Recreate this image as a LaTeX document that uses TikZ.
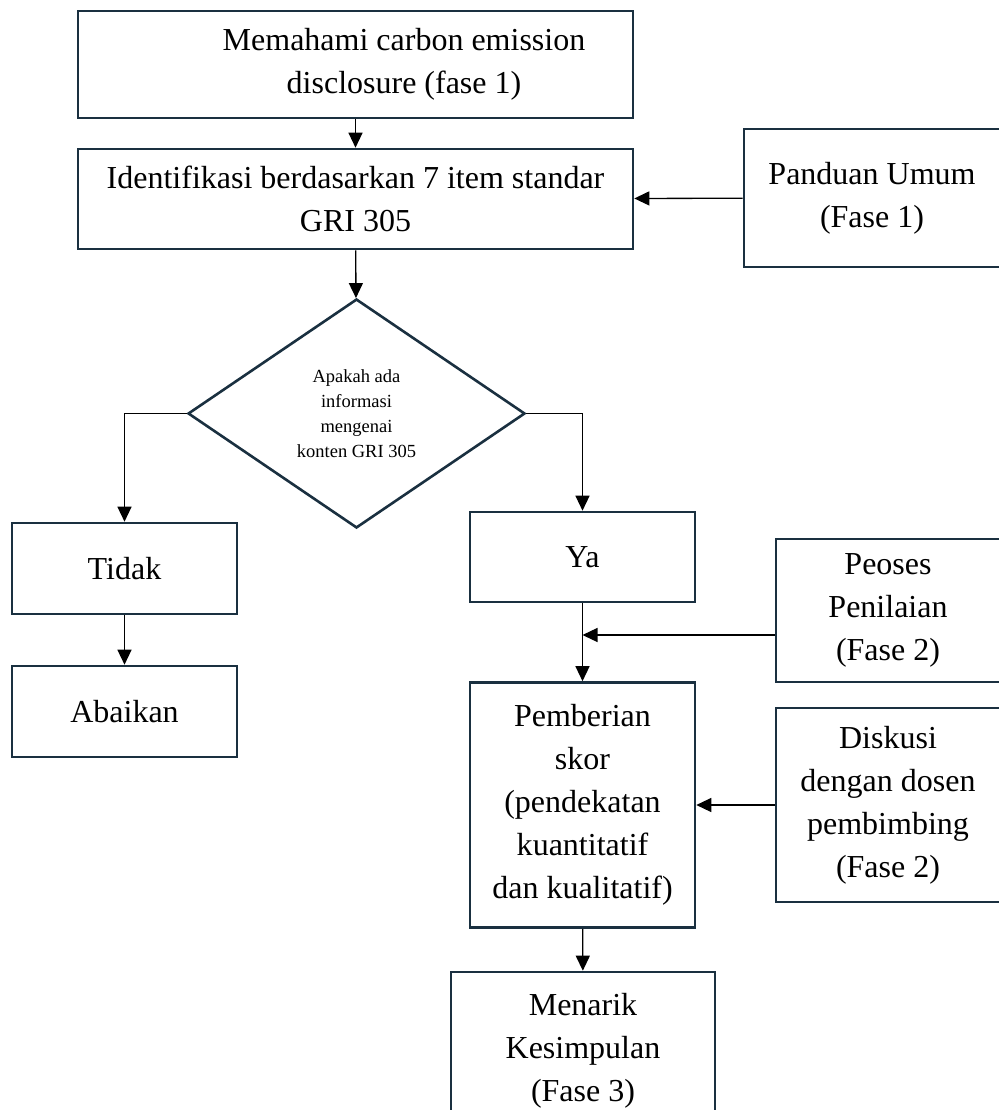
\documentclass[tikz,border=0pt]{standalone}
\usepackage{fontspec}
\setmainfont{Liberation Serif}
\usetikzlibrary{shapes.geometric,arrows.meta}
\definecolor{boxline}{HTML}{1A3040}

\begin{document}
\begin{tikzpicture}
  [x=1pt,y=-1pt,
   every node/.style={draw=boxline,line width=2.6pt,inner sep=0pt,align=center,
     font=\fontsize{32}{43}\selectfont},
   arrow/.style={black,line width=1.3pt,-{Triangle[length=15pt,width=14pt]}}]
  \useasboundingbox (0,0) rectangle (998,1110);
  \node[minimum width=555pt,minimum height=107pt] (memahami) at (355.5,64.5)
    {\hspace*{97pt}Memahami carbon emission\\\hspace*{97pt}disclosure (fase 1)};
  \node[minimum width=555pt,minimum height=100pt] (identifikasi) at (355.5,199)
    {Identifikasi berdasarkan 7 item standar\\GRI 305};
  \node[minimum width=256pt,minimum height=138pt] (panduan) at (872,198) {Panduan Umum\\(Fase 1)};
  \node[diamond,aspect=1.47,minimum width=337pt,minimum height=229pt,
    font=\fontsize{18.5}{25}\selectfont] (cek) at (356.5,413.5)
    {Apakah ada\\informasi\\mengenai\\konten GRI 305};
  \node[minimum width=225pt,minimum height=91pt] (tidak) at (124.5,568.5) {Tidak};
  \node[minimum width=225pt,minimum height=91pt] (abaikan) at (124.5,711.5) {Abaikan};
  \node[minimum width=225pt,minimum height=90pt] (ya) at (582.5,557) {Ya};
  \node[minimum width=224pt,minimum height=143pt] (peoses) at (888,610.5) {Peoses\\Penilaian\\(Fase 2)};
  \node[minimum width=225pt,minimum height=245pt] (pemberian) at (582.5,805)
    {Pemberian\\skor\\(pendekatan\\kuantitatif\\dan kualitatif)};
  \node[minimum width=224pt,minimum height=194pt] (diskusi) at (888,805)
    {Diskusi\\dengan dosen\\pembimbing\\(Fase 2)};
  \node[minimum width=264pt,minimum height=158pt] (menarik) at (583,1051)
    {Menarik\\Kesimpulan\\(Fase 3)};
  \coordinate (gabung) at (582.5,635);

  \foreach \from/\to in {memahami/identifikasi,identifikasi/cek,tidak/abaikan,
    ya/pemberian,pemberian/menarik,panduan/identifikasi,diskusi/pemberian}
    \draw[arrow] (\from) -- (\to);
  \draw[arrow] (cek.west) -| (tidak);
  \draw[arrow] (cek.east) -| (ya);
  \draw[arrow] (peoses.west |- gabung) -- (gabung);

\end{tikzpicture}
\end{document}
